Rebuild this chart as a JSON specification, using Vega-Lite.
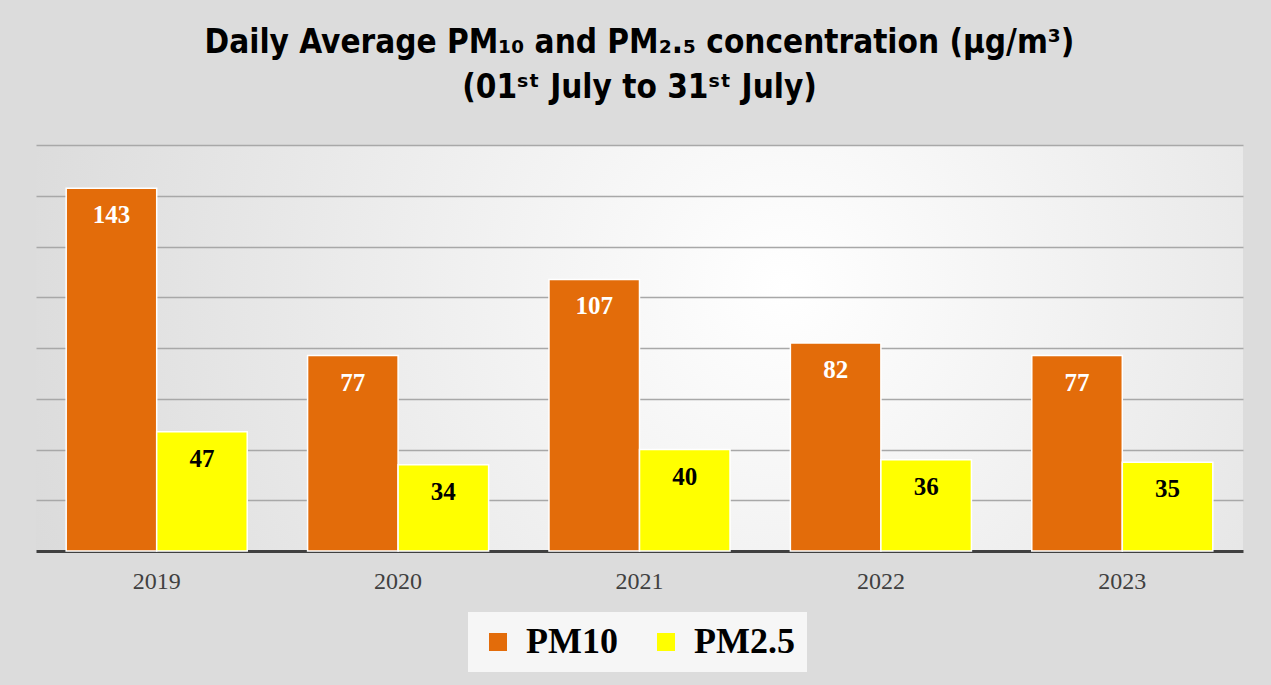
{
  "$schema": "https://vega.github.io/schema/vega-lite/v6.json",
  "width": 1207,
  "height": 406,
  "autosize": {"type": "none"},
  "padding": {"left": 36, "top": 145, "right": 28, "bottom": 134},
  "background": "#dcdcdc",
  "title": {
    "text": ["Daily Average PM₁₀ and PM₂.₅ concentration (µg/m³)", "(01ˢᵗ July to 31ˢᵗ July)"],
    "font": "DejaVu Sans Condensed",
    "fontSize": 33,
    "fontWeight": "bold",
    "color": "#000000",
    "lineHeight": 45,
    "anchor": "middle",
    "offset": 40
  },
  "data": {
    "values": [
      {"year": "2019", "series": "PM10", "value": 143},
      {"year": "2019", "series": "PM2.5", "value": 47},
      {"year": "2020", "series": "PM10", "value": 77},
      {"year": "2020", "series": "PM2.5", "value": 34},
      {"year": "2021", "series": "PM10", "value": 107},
      {"year": "2021", "series": "PM2.5", "value": 40},
      {"year": "2022", "series": "PM10", "value": 82},
      {"year": "2022", "series": "PM2.5", "value": 36},
      {"year": "2023", "series": "PM10", "value": 77},
      {"year": "2023", "series": "PM2.5", "value": 35}
    ]
  },
  "encoding": {
    "x": {
      "field": "year",
      "type": "nominal",
      "scale": {"paddingInner": 0.25, "paddingOuter": 0.125},
      "axis": {
        "title": null,
        "labelAngle": 0,
        "labelFont": "Liberation Serif",
        "labelFontSize": 24,
        "labelColor": "#404040",
        "labelPadding": 18,
        "ticks": false,
        "domainColor": "#404040",
        "domainWidth": 3,
        "grid": false
      }
    },
    "xOffset": {"field": "series", "type": "nominal", "scale": {"paddingInner": 0, "paddingOuter": 0}},
    "y": {
      "field": "value",
      "type": "quantitative",
      "scale": {"domain": [0, 160], "nice": false},
      "axis": {
        "title": null,
        "labels": false,
        "ticks": false,
        "domain": false,
        "values": [20, 40, 60, 80, 100, 120, 140, 160],
        "gridColor": "#a8a8a8",
        "gridWidth": 1.5
      }
    }
  },
  "layer": [
    {
      "mark": {"type": "bar", "stroke": "#ffffff", "strokeWidth": 1.5},
      "encoding": {
        "color": {
          "field": "series",
          "type": "nominal",
          "scale": {"domain": ["PM10", "PM2.5"], "range": ["#E36C0A", "#FFFF00"]},
          "legend": {
            "title": null,
            "orient": "none",
            "legendX": 432,
            "legendY": 467,
            "direction": "horizontal",
            "symbolType": "square",
            "symbolSize": 324,
            "symbolStrokeWidth": 0,
            "labelFont": "Liberation Serif",
            "labelFontSize": 36,
            "labelFontWeight": "bold",
            "labelColor": "#000000",
            "columnPadding": 30,
            "labelOffset": 10,
            "padding": 12,
            "fillColor": "#f6f6f6"
          }
        }
      }
    },
    {
      "mark": {"type": "text", "baseline": "middle", "dy": 27, "font": "Liberation Serif", "fontSize": 25, "fontWeight": "bold"},
      "encoding": {
        "text": {"field": "value", "type": "quantitative"},
        "fill": {"condition": {"test": "datum.series === 'PM10'", "value": "#ffffff"}, "value": "#000000"}
      }
    }
  ],
  "config": {
    "view": {
      "stroke": null,
      "fill": {
        "gradient": "radial",
        "x1": 0.62, "y1": 0.45, "r1": 0,
        "x2": 0.62, "y2": 0.45, "r2": 0.85,
        "stops": [{"offset": 0, "color": "#ffffff"}, {"offset": 1, "color": "#d0d0d0"}]
      }
    }
  }
}
